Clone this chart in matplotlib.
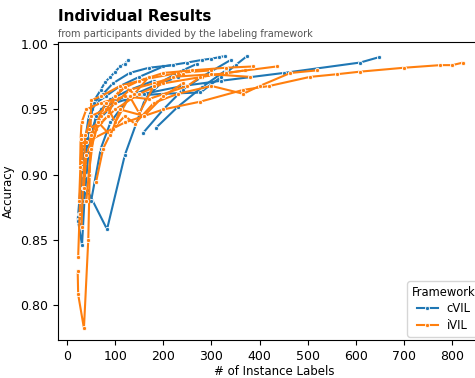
import matplotlib
matplotlib.use("Agg")
import matplotlib.pyplot as plt

# Participant trajectories: (# instance labels, accuracy)
CVIL = [
    [(22, 0.865), (30, 0.900), (40, 0.930), (52, 0.950), (58, 0.958), (70, 0.965),
     (79, 0.971), (90, 0.975), (100, 0.979), (110, 0.983), (120, 0.985), (127, 0.988)],
    [(25, 0.870), (35, 0.920), (45, 0.945), (60, 0.955), (80, 0.960), (110, 0.968),
     (150, 0.975), (200, 0.983), (250, 0.986), (280, 0.988), (300, 0.989), (315, 0.990),
     (328, 0.991)],
    [(30, 0.880), (45, 0.930), (70, 0.950), (120, 0.960), (200, 0.962), (277, 0.963),
     (320, 0.975), (350, 0.984), (374, 0.991)],
    [(28, 0.860), (40, 0.910), (60, 0.940), (100, 0.955), (160, 0.962), (240, 0.968),
     (320, 0.972), (450, 0.978), (609, 0.986), (647, 0.990)],
    [(158, 0.932), (200, 0.950), (240, 0.965), (280, 0.975), (340, 0.988)],
    [(185, 0.936), (230, 0.952), (280, 0.967), (330, 0.980)],
    [(23, 0.864), (31, 0.846), (36, 0.880), (45, 0.920), (60, 0.945), (90, 0.958),
     (130, 0.965), (180, 0.972)],
    [(42, 0.888), (83, 0.858), (120, 0.915), (162, 0.958), (200, 0.972), (240, 0.980),
     (270, 0.985)],
    [(35, 0.900), (45, 0.935), (55, 0.955), (75, 0.962), (95, 0.970), (130, 0.978),
     (170, 0.982), (220, 0.984)],
    [(50, 0.880), (70, 0.920), (90, 0.940), (130, 0.960), (180, 0.968), (230, 0.975)],
]

IVIL = [
    [(22, 0.826), (23, 0.808), (35, 0.782), (44, 0.850), (47, 0.900), (50, 0.957),
     (70, 0.960), (110, 0.968), (160, 0.973), (230, 0.978), (300, 0.980)],
    [(23, 0.837), (26, 0.870), (29, 0.905), (33, 0.925), (45, 0.935), (70, 0.940),
     (100, 0.950), (150, 0.962), (200, 0.970), (280, 0.975), (370, 0.980)],
    [(25, 0.880), (28, 0.910), (31, 0.930), (40, 0.925), (120, 0.940), (200, 0.950),
     (277, 0.956), (366, 0.965), (420, 0.968), (505, 0.975), (560, 0.977), (609, 0.979),
     (700, 0.982), (775, 0.984), (800, 0.984), (823, 0.986)],
    [(27, 0.906), (28, 0.927), (30, 0.940), (40, 0.950), (70, 0.955), (120, 0.960),
     (170, 0.958), (250, 0.968), (277, 0.975), (330, 0.978), (436, 0.983)],
    [(30, 0.860), (33, 0.890), (38, 0.930), (50, 0.945), (80, 0.950), (110, 0.965),
     (150, 0.972), (200, 0.978), (260, 0.980), (330, 0.982), (387, 0.983)],
    [(60, 0.894), (75, 0.920), (95, 0.935), (120, 0.945), (141, 0.939), (180, 0.955),
     (230, 0.962), (300, 0.968), (366, 0.962), (400, 0.968), (464, 0.978), (520, 0.980)],
    [(45, 0.900), (55, 0.930), (70, 0.945), (100, 0.955), (130, 0.965), (180, 0.970),
     (240, 0.977)],
    [(35, 0.890), (40, 0.915), (60, 0.935), (85, 0.945), (100, 0.960), (120, 0.967),
     (140, 0.962), (170, 0.975)],
    [(50, 0.930), (80, 0.955), (100, 0.940), (130, 0.960), (150, 0.947), (180, 0.968),
     (220, 0.975), (300, 0.977), (380, 0.975)],
    [(40, 0.880), (50, 0.920), (65, 0.940), (90, 0.930), (110, 0.950), (160, 0.945),
     (200, 0.960), (240, 0.970)],
]

FRAMEWORKS = ["cVIL", "iVIL"]
COLORS = {"cVIL": "#1f77b4", "iVIL": "#ff7f0e"}

fig = plt.figure(figsize=(4.75, 3.78), dpi=100)
ax = fig.add_axes([0.122, 0.1005, 0.911, 0.7875])

for name, runs in zip(FRAMEWORKS, [CVIL, IVIL]):
    for i, run in enumerate(runs):
        xs = [p[0] for p in run]
        ys = [p[1] for p in run]
        ax.plot(xs, ys, color=COLORS[name], lw=1.5, marker="o", ms=3,
                mec="white", mew=0.6, label=name if i == 0 else None)

ax.set_xlim(-19, 880)
ax.set_ylim(0.773, 1.0015)
ax.set_xticks(range(0, 900, 100))
ax.set_yticks([0.80, 0.85, 0.90, 0.95, 1.00])
ax.set_yticklabels(["0.80", "0.85", "0.90", "0.95", "1.00"])
ax.tick_params(labelsize=9)
ax.set_xlabel("# of Instance Labels", fontsize=8.5, labelpad=1.5)
ax.set_ylabel("Accuracy", fontsize=8.5)

leg = ax.legend(title="Framework", loc="lower right", bbox_to_anchor=(0.984, 0.0),
                fontsize=8.3, title_fontsize=8.3, borderaxespad=0.3,
                handlelength=1.8, labelspacing=0.3)

fig.text(0.122, 0.937, "Individual Results", fontsize=11, fontweight="bold",
         ha="left", va="bottom")
fig.text(0.122, 0.898, "from participants divided by the labeling framework",
         fontsize=7.05, color="#555555", ha="left", va="bottom")

fig.savefig("out.png", dpi=100)
